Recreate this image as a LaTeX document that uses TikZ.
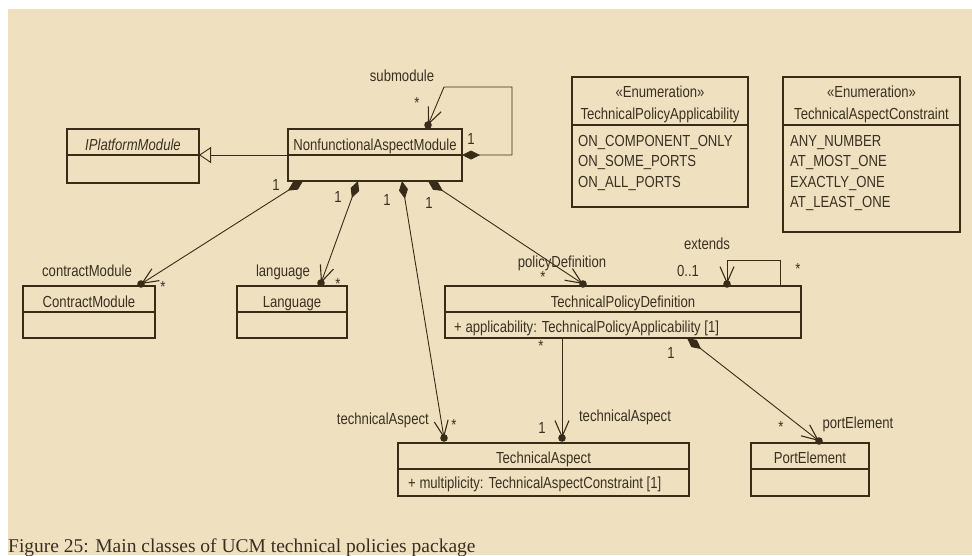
\documentclass[tikz,border=0pt]{standalone}
\usepackage{fontspec}
\setmainfont{Liberation Sans}[FakeStretch=0.82]
\newfontfamily\capfont{Liberation Serif}
\usetikzlibrary{arrows.meta,calc}
\definecolor{bg}{RGB}{239,225,192}
\definecolor{ink}{RGB}{56,44,24}
\definecolor{txt}{RGB}{58,48,34}
\begin{document}
\begin{tikzpicture}[x=1pt,y=-1pt,font=\fontsize{16}{18}\selectfont,
  box/.style={draw=ink,line width=1.2pt,inner sep=0pt,outer sep=0pt,anchor=north west},
  lbl/.style={text=txt,inner sep=0pt,anchor=base},
  lblw/.style={text=txt,inner sep=0pt,anchor=base west},
  lble/.style={text=txt,inner sep=0pt,anchor=base east},
  divider/.style={draw=ink,line width=1.2pt},
  assoc/.style={draw=ink,line width=0.9pt,-{Straight Barb[length=16pt,width=14pt,line width=1.1pt]}},
  comp/.style={draw=ink,line width=0.9pt,{Diamond[length=18pt,width=9pt]}-{Straight Barb[length=16pt,width=14pt,line width=1.1pt]}},
  gen/.style={draw=ink,line width=0.9pt,-{Triangle[length=12pt,width=16pt,fill=bg,line width=0.9pt]}},
  owndot/.style={fill=ink}]
\useasboundingbox (0,0) rectangle (972,555);
\fill[white] (0,0) rectangle (972,555);
\fill[bg] (8,9) rectangle (972,555);

% ---------- classes ----------
\node[box,minimum width=132pt,minimum height=54pt] (ipm) at (67,129) {};
\draw[divider] (ipm.west |- 0,155) -- (ipm.east |- 0,155);
\node[lbl] (ipmT) at (133,150) {\itshape IPlatformModule};

\node[box,minimum width=174pt,minimum height=52pt] (nam) at (288,129) {};
\draw[divider] (nam.west |- 0,155) -- (nam.east |- 0,155);
\node[lbl] (namT) at (375,150) {NonfunctionalAspectModule};

\node[box,minimum width=176pt,minimum height=130pt] (tpa) at (572,77) {};
\draw[divider] (tpa.west |- 0,125) -- (tpa.east |- 0,125);
\node[lbl] (tpaS) at (660,97) {«Enumeration»};
\node[lbl] (tpaT) at (660,119) {TechnicalPolicyApplicability};
\node[lblw] (tpa1) at (578,146) {ON\_COMPONENT\_ONLY};
\node[lblw] (tpa2) at (578,166) {ON\_SOME\_PORTS};
\node[lblw] (tpa3) at (578,187) {ON\_ALL\_PORTS};

\node[box,minimum width=177pt,minimum height=155pt] (tac) at (783,77) {};
\draw[divider] (tac.west |- 0,125) -- (tac.east |- 0,125);
\node[lbl] (tacS) at (871.5,97) {«Enumeration»};
\node[lbl] (tacT) at (871.5,119) {TechnicalAspectConstraint};
\node[lblw] (tac1) at (790,146) {ANY\_NUMBER};
\node[lblw] (tac2) at (790,166) {AT\_MOST\_ONE};
\node[lblw] (tac3) at (790,187) {EXACTLY\_ONE};
\node[lblw] (tac4) at (790,207) {AT\_LEAST\_ONE};

\node[box,minimum width=132pt,minimum height=52pt] (cm) at (23,286) {};
\draw[divider] (cm.west |- 0,312) -- (cm.east |- 0,312);
\node[lbl] (cmT) at (89,307) {ContractModule};

\node[box,minimum width=110pt,minimum height=52pt] (lang) at (237,286) {};
\draw[divider] (lang.west |- 0,312) -- (lang.east |- 0,312);
\node[lbl] (langT) at (292,307) {Language};

\node[box,minimum width=356pt,minimum height=52pt] (tpd) at (445,286) {};
\draw[divider] (tpd.west |- 0,312) -- (tpd.east |- 0,312);
\node[lbl] (tpdT) at (623,307) {TechnicalPolicyDefinition};
\node[lblw] (tpdA) at (454,332) {+ applicability: TechnicalPolicyApplicability [1]};

\node[box,minimum width=291pt,minimum height=53pt] (ta) at (398,443) {};
\draw[divider] (ta.west |- 0,469) -- (ta.east |- 0,469);
\node[lbl] (taT) at (543.5,463) {TechnicalAspect};
\node[lblw] (taA) at (408,488) {+ multiplicity: TechnicalAspectConstraint [1]};

\node[box,minimum width=118pt,minimum height=53pt] (pe) at (751,443) {};
\draw[divider] (pe.west |- 0,469) -- (pe.east |- 0,469);
\node[lbl] (peT) at (810,463) {PortElement};

% ---------- connector end points ----------
\coordinate (nsub) at ([xshift=53pt,yshift=4pt]nam.north);
\coordinate (ecm) at ([xshift=-14pt,yshift=2pt]cm.north east);
\coordinate (elang) at ([xshift=29pt,yshift=3pt]lang.north);
\coordinate (eta1) at ([xshift=46pt,yshift=5pt]ta.north west);
\coordinate (etpd) at ([xshift=138pt,yshift=2pt]tpd.north west);
\coordinate (eext) at ([xshift=282pt,yshift=2pt]tpd.north west);
\coordinate (eta2) at ([xshift=164pt,yshift=5pt]ta.north west);
\coordinate (epe) at ([xshift=68pt,yshift=2pt]pe.north west);

% ---------- connectors ----------
\draw[gen] (nam.west) -- (nam.west -| ipm.east);

\draw[comp] (nam.east) -- ++(50,0) -- ++(0,-68) -- ++(-68,0) -- (nsub);
\fill[owndot] (nsub) circle (3.8);
\node[lbl] (lsub) at (402,81) {submodule};
\node[lbl] (lsubs) at (417,108) {*};
\node[lbl] (lsub1) at (471,144) {1};

\draw[comp] ([xshift=-72pt]nam.south) -- (ecm);
\fill[owndot] (ecm) circle (3.8);
\node[lbl] (lcm1) at (276,190) {1};
\node[lbl] (lcmn) at (87,276) {contractModule};
\node[lbl] (lcms) at (163,292) {*};

\draw[comp] ([xshift=-17pt]nam.south) -- (elang);
\fill[owndot] (elang) circle (3.8);
\node[lbl] (llang1) at (338,202) {1};
\node[lbl] (llangn) at (283,276) {language};
\node[lbl] (llangs) at (338,289) {*};

\draw[comp] ([xshift=27pt]nam.south) -- (eta1);
\fill[owndot] (eta1) circle (3.8);
\node[lbl] (lta11) at (387,205) {1};
\node[lble] (lta1n) at (429,424) {technicalAspect};
\node[lbl] (lta1s) at (454,430) {*};

\draw[comp] ([xshift=53pt]nam.south) -- (etpd);
\fill[owndot] (etpd) circle (3.8);
\node[lbl] (ltpd1) at (429,208) {1};
\node[lbl] (ltpdn) at (562,267) {policyDefinition};
\node[lbl] (ltpds) at (543,282) {*};

\draw[assoc] ([xshift=-21pt]tpd.north east) -- ++(0,-26) -| (eext);
\fill[owndot] (eext) circle (3.8);
\node[lbl] (lextn) at (707,249) {extends};
\node[lbl] (lext01) at (688,276) {0..1};
\node[lbl] (lexts) at (798,274) {*};

\draw[assoc] ([xshift=117pt]tpd.south west) -- (eta2);
\fill[owndot] (eta2) circle (3.8);
\node[lbl] (lta2s) at (541,351) {*};
\node[lbl] (lta21) at (542,433) {1};
\node[lbl] (lta2n) at (625,421) {technicalAspect};

\draw[comp] ([xshift=242pt]tpd.south west) -- (epe);
\fill[owndot] (epe) circle (3.8);
\node[lbl] (lpe1) at (671,358) {1};
\node[lbl] (lpes) at (781,432) {*};
\node[lbl] (lpen) at (858,428) {portElement};

% ---------- caption ----------
\node[anchor=base west,inner sep=0pt,text=txt,font=\capfont\fontsize{19.5}{22}\selectfont] (cap) at (8,552) {Figure 25: Main classes of UCM technical policies package};
\end{tikzpicture}
\end{document}
